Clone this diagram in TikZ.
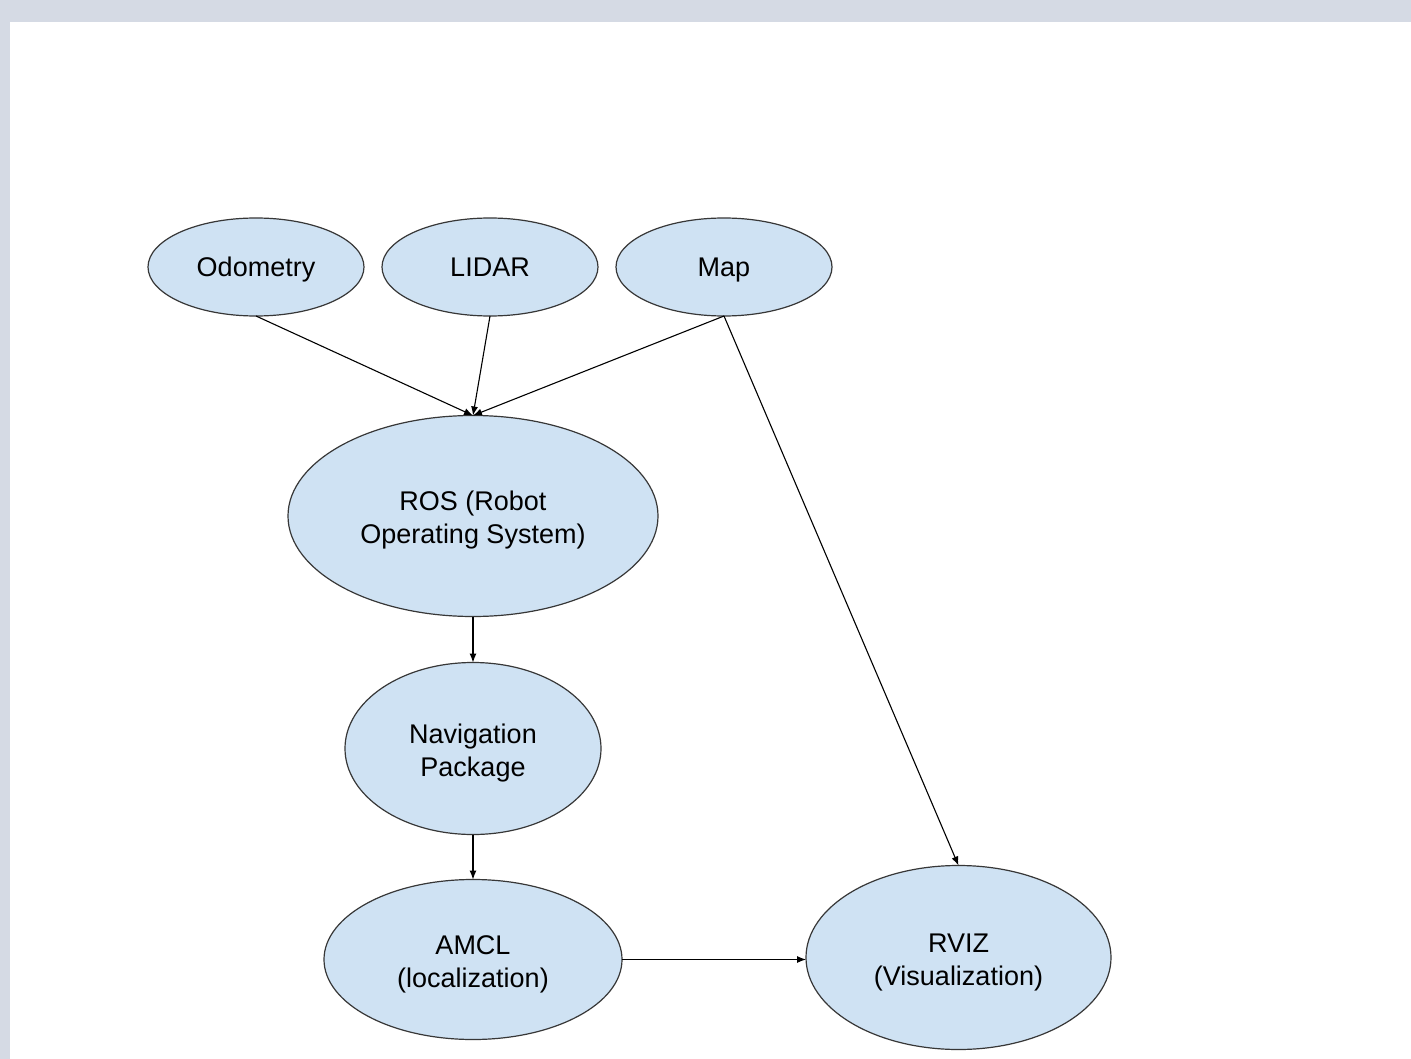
\documentclass[tikz,border=0pt]{standalone}
\usepackage{fontspec}
\setmainfont{Liberation Sans}
\usepackage{xcolor}
\usetikzlibrary{shapes.geometric, arrows.meta, positioning}
\definecolor{bubblefill}{RGB}{207,226,243}
\definecolor{framegray}{RGB}{213,218,228}
\definecolor{edgegray}{RGB}{55,55,55}
\newcommand{\toplift}{\rule{0pt}{28pt}}

\begin{document}
\begin{tikzpicture}[x=1pt, y=-1pt,
    bubble/.style={ellipse, draw=edgegray, line width=1.2pt, fill=bubblefill, inner sep=0pt, outer sep=0pt, align=center, font=\fontsize{27}{33}\selectfont},
    sensor/.style={bubble, minimum width=216pt, minimum height=98pt, text height=22pt, text depth=3pt},
    rel/.style={-{Latex[length=9pt, width=7pt]}, line width=1.1pt}
]

% page frame
\useasboundingbox (0,0) rectangle (1411,1059);
\fill[framegray] (0,0) rectangle (1411,1059);
\fill[white] (10,22) rectangle (1411,1059);

% inputs
\node[sensor] (odom) at (256,267) {Odometry};
\node[sensor, right=18pt of odom] (lidar) {LIDAR};
\node[sensor, right=18pt of lidar] (map) {Map};

% processing chain
\node[bubble, minimum width=370pt, minimum height=201pt] (ros) at (473,516) {\toplift ROS (Robot\\Operating System)};
\node[bubble, minimum width=256pt, minimum height=172pt, below=46pt of ros] (nav) {\toplift Navigation\\Package};
\node[bubble, minimum width=298pt, minimum height=160pt, below=45pt of nav] (amcl) {\toplift AMCL\\(localization)};

% visualization
\node[bubble, minimum width=305pt, minimum height=184pt, right=184pt of amcl, yshift=2pt] (rviz) {\toplift RVIZ\\(Visualization)};

% connections
\draw[rel] (odom.south) -- (ros.north);
\draw[rel] (lidar.south) -- (ros.north);
\draw[rel] (map.south) -- (ros.north);
\draw[rel] (map.south) -- (rviz.north);
\draw[rel] (ros) -- (nav);
\draw[rel] (nav) -- (amcl);
\draw[rel] (amcl) -- (rviz.west |- amcl.east);

\end{tikzpicture}
\end{document}
